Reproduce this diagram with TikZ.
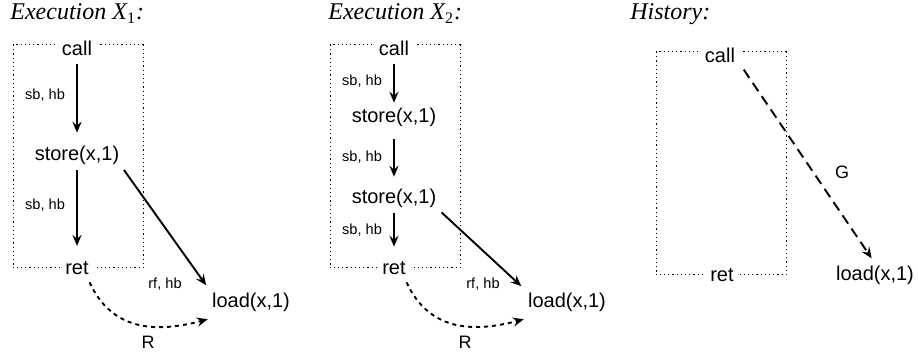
\documentclass[tikz,border=0pt]{standalone}
\usepackage{fontspec}
\setmainfont{Liberation Serif}
\setsansfont{Liberation Sans}
\usetikzlibrary{arrows.meta}

\tikzset{
  ev/.style={font=\sffamily\fontsize{10}{12}\selectfont, inner sep=1pt},
  evb/.style={ev, fill=white, inner xsep=2.5pt},
  rel/.style={font=\sffamily\fontsize{7.3}{9}\selectfont, inner sep=1pt},
  bigrel/.style={font=\sffamily\fontsize{9}{11}\selectfont, inner sep=1pt},
  title/.style={font=\fontsize{12}{14}\selectfont\itshape, anchor=base west, inner sep=0pt},
  hb/.style={-{Stealth[length=5.5pt,width=4.6pt,inset=2pt]}, line width=0.95pt},
  rr/.style={hb, dash pattern=on 2pt off 2pt},
  gg/.style={hb, dash pattern=on 5pt off 3pt},
  thread/.style={line width=0.5pt, dash pattern=on 0.6pt off 1.5pt},
}

\begin{document}
\begin{tikzpicture}[x=0.5pt,y=-0.5pt]
\useasboundingbox (0,0) rectangle (918,356);

% first execution
\node[title] (t1) at (10,20) {Execution \textit{X}\textsubscript{\upshape 1}:};
\draw[thread] (13,45) rectangle (143,268);
\node[evb] (call1) at (77,48) {call};
\node[ev] (st1) at (77,155) {store(x,1)};
\node[evb] (ret1) at (77,268) {ret};
\node[ev] (ld1) at (251,302) {load(x,1)};
\draw[hb, shorten <=3.3pt, shorten >=5.3pt] (call1) -- (st1);
\draw[hb, shorten <=1.8pt, shorten >=6.6pt] (st1) -- (ret1);
\draw[hb, shorten <=2pt, shorten >=3pt] (st1.south east) -- (ld1.north west);
\draw[rr, shorten <=3pt, shorten >=1pt] ([xshift=5]ret1.south) to[out=-65,in=195,looseness=1.15] ([yshift=-2.5pt]ld1.south west);
\node[rel] (sb1a) at (45,95) {sb, hb};
\node[rel] (sb1b) at (45,205) {sb, hb};
\node[rel] (rf1) at (165,284) {rf, hb};
\node[bigrel] (r1) at (148,342) {R};

% second execution
\node[title] (t2) at (328,20) {Execution \textit{X}\textsubscript{\upshape 2}:};
\draw[thread] (330,45) rectangle (460,268);
\node[evb] (call2) at (394,48) {call};
\node[ev] (st21) at (394,117) {store(x,1)};
\node[ev] (st22) at (394,198) {store(x,1)};
\node[evb] (ret2) at (394,268) {ret};
\node[ev] (ld2) at (567,302) {load(x,1)};
\draw[hb, shorten <=3.3pt, shorten >=1.3pt] (call2) -- (st21);
\draw[hb, shorten <=5.3pt, shorten >=4.8pt] (st21) -- (st22);
\draw[hb, shorten <=1.8pt, shorten >=6.2pt] (st22) -- (ret2);
\draw[hb, shorten <=2pt, shorten >=3pt] (st22.south east) -- (ld2.north west);
\draw[rr, shorten <=3pt, shorten >=1pt] ([xshift=5]ret2.south) to[out=-65,in=195,looseness=1.15] ([yshift=-2.5pt]ld2.south west);
\node[rel] (sb2a) at (362,81) {sb, hb};
\node[rel] (sb2b) at (362,157) {sb, hb};
\node[rel] (sb2c) at (362,230) {sb, hb};
\node[rel] (rf2) at (483,284) {rf, hb};
\node[bigrel] (r2) at (465,342) {R};

% history
\node[title] (t3) at (630,20) {History:};
\draw[thread] (656,52) rectangle (786,275);
\node[evb] (call3) at (720,55) {call};
\node[evb] (ret3) at (722,275) {ret};
\node[ev] (ld3) at (875,275) {load(x,1)};
\draw[gg, shorten <=3pt, shorten >=3pt] (call3.south east) -- (ld3.north);
\node[bigrel] (g3) at (842,172) {G};
\end{tikzpicture}
\end{document}
